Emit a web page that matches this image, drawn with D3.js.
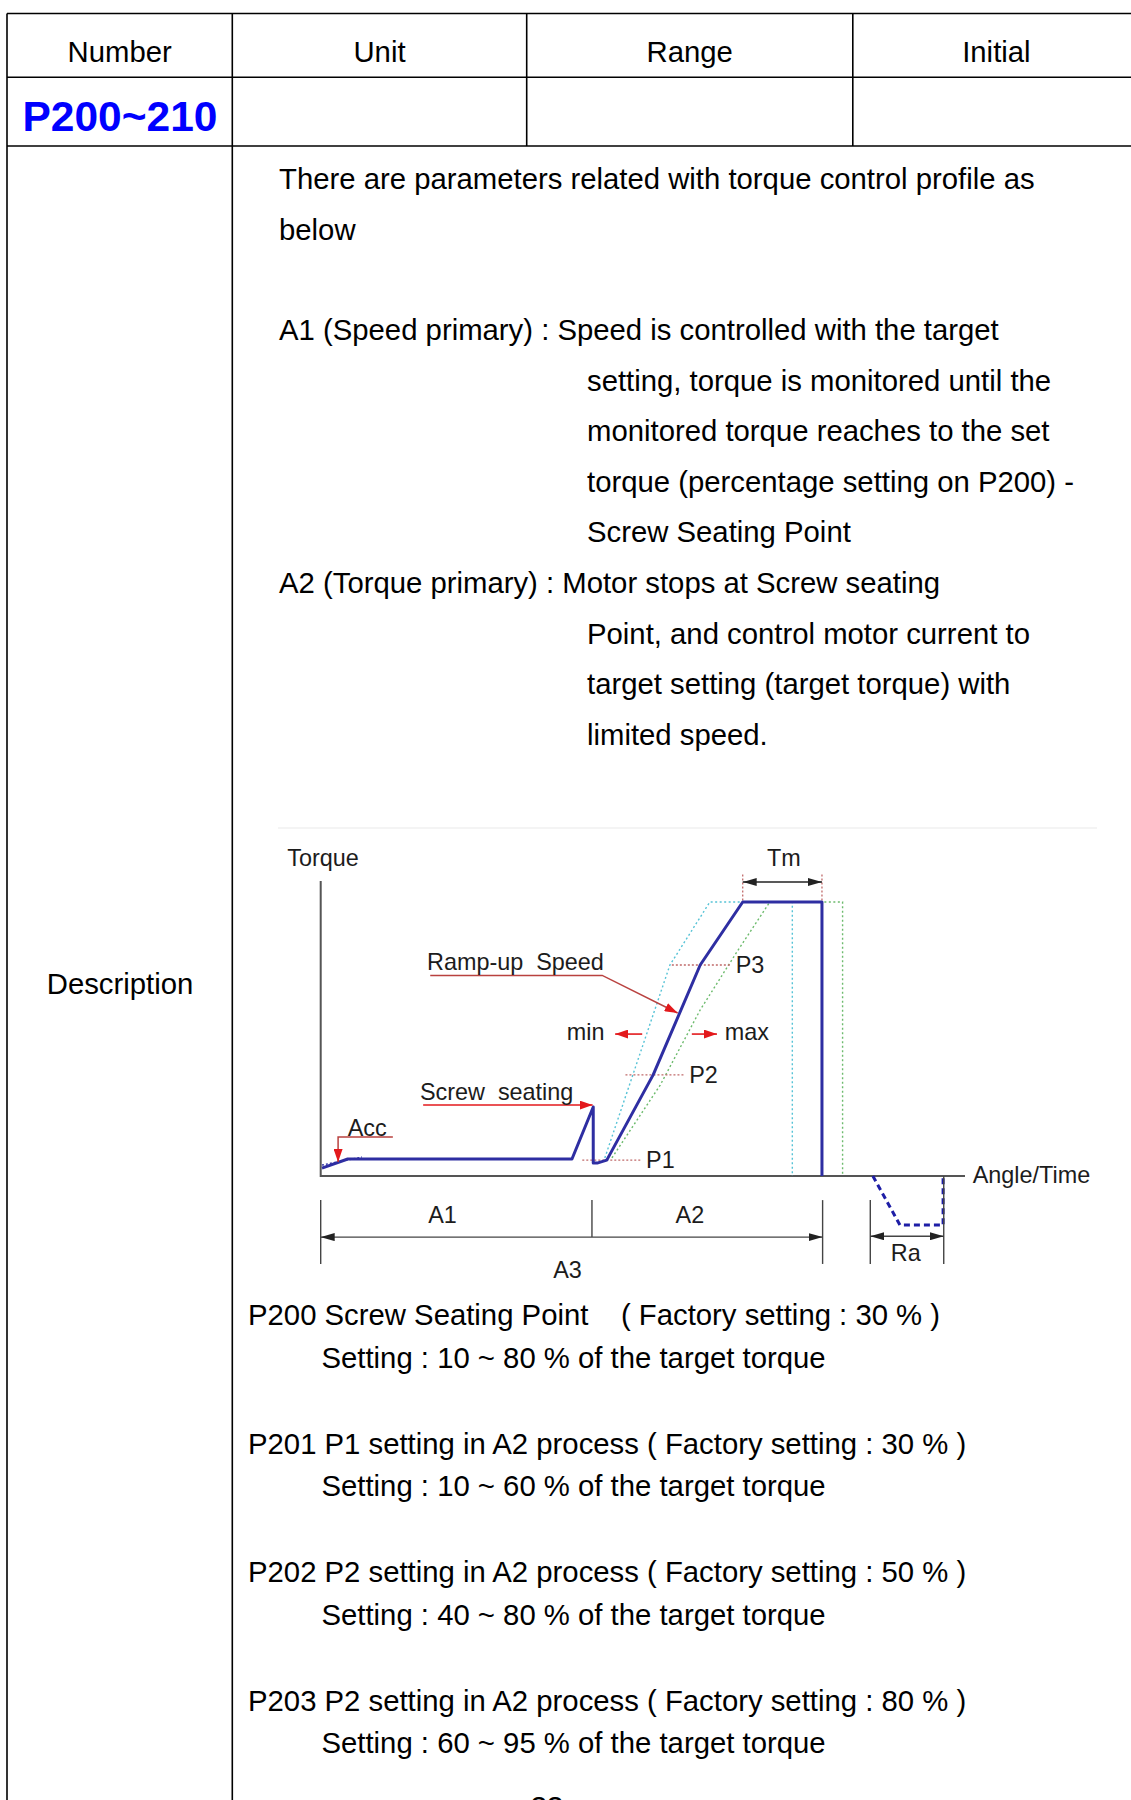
<!DOCTYPE html>
<html><head><meta charset="utf-8">
<script src="https://cdn.jsdelivr.net/npm/d3@7"></script>
<style>
html,body{margin:0;padding:0;background:#fff;}
svg{display:block;}
text{font-family:"Liberation Sans",Arial,Helvetica,sans-serif;white-space:pre;}
</style></head><body>
<svg id="page" width="1131" height="1800"></svg>
<script>
// ---------- text content ----------
const headers = ["Number", "Unit", "Range", "Initial"];
const paramRange = "P200~210";
const rowLabel = "Description";
const introLines = ["There are parameters related with torque control profile as", "below"];
const a1Lines = ["A1 (Speed primary) : Speed is controlled with the target",
  "setting, torque is monitored until the",
  "monitored torque reaches to the set",
  "torque (percentage setting on P200) -",
  "Screw Seating Point"];
const a2Lines = ["A2 (Torque primary) : Motor stops at Screw seating",
  "Point, and control motor current to",
  "target setting (target torque) with",
  "limited speed."];
const paramTitles = ["P200 Screw Seating Point    ( Factory setting : 30 % )",
  "P201 P1 setting in A2 process ( Factory setting : 30 % )",
  "P202 P2 setting in A2 process ( Factory setting : 50 % )",
  "P203 P2 setting in A2 process ( Factory setting : 80 % )"];
const paramSettings = ["Setting : 10 ~ 80 % of the target torque",
  "Setting : 10 ~ 60 % of the target torque",
  "Setting : 40 ~ 80 % of the target torque",
  "Setting : 60 ~ 95 % of the target torque"];
const pageNumber = "33";

// ---------- diagram data (angle % of axis, torque % of target) ----------
const profileAngle  = [0.2, 4.2, 39.0, 42.3, 42.3, 42.9, 44.4, 51.6, 58.9, 65.5, 77.8, 77.8];
const profileTorque = [2.9, 6.2, 6.2, 25.2, 4.7, 4.7, 5.8, 36.9, 77.0, 100, 100, 0];
const minAngle  = [44.1, 54.2, 60.4, 73.2, 73.2];
const minTorque = [6.6, 77.0, 100, 100, 0];
const maxAngle  = [45.2, 52.7, 58.9, 64.3, 69.7, 81.0, 81.0];
const maxTorque = [6.6, 33.2, 60.6, 80.7, 100, 100, 0];
const accAngle  = [0.2, 6.4];
const accTorque = [4.0, 6.9];
const releaseAngle  = [85.7, 89.9, 96.6, 96.6];
const releaseTorque = [0, -17.9, -17.9, 0];
const setPointNames  = ["P1", "P2", "P3"];
const setPointTorque = [5.8, 36.9, 77.0];
const setPointFrom   = [40.6, 47.3, 54.5];
const setPointTo     = [49.9, 56.6, 63.8];
const tmRange = [65.5, 77.8];
const phaseNames = ["A1", "A2"];
const phaseBounds = [0, 42.1, 77.9];
const raRange = [85.3, 96.7];

// ---------- setup ----------
const svg = d3.select("#page");
const BLK = "#000";
const FS = 29.3;
const defs = svg.append("defs");
function marker(id, color, w, h) {
  defs.append("marker").attr("id", id).attr("markerUnits", "userSpaceOnUse")
    .attr("markerWidth", w).attr("markerHeight", h).attr("refX", w).attr("refY", h / 2)
    .attr("orient", "auto-start-reverse")
    .append("path").attr("d", `M0,0L${w},${h / 2}L0,${h}Z`).attr("fill", color);
}
marker("arrBlk", "#222", 14, 8);
marker("arrRed", "#e3191c", 13, 9);

// ---------- table ----------
const colEdges = [7, 232.3, 526.7, 852.8, 1140];
const rowEdges = [13.5, 77.3, 146];
const tbl = svg.append("g").attr("stroke", BLK).attr("stroke-width", 1.6).attr("fill", "none");
rowEdges.forEach(r => tbl.append("line").attr("x1", colEdges[0]).attr("x2", 1131).attr("y1", r).attr("y2", r));
[0, 1].forEach(i => tbl.append("line").attr("x1", colEdges[i]).attr("x2", colEdges[i]).attr("y1", rowEdges[0]).attr("y2", 1800));
[2, 3].forEach(i => tbl.append("line").attr("x1", colEdges[i]).attr("x2", colEdges[i]).attr("y1", rowEdges[0]).attr("y2", rowEdges[2]));

svg.append("g").selectAll("text").data(headers).join("text")
  .attr("x", (d, i) => (colEdges[i] + colEdges[i + 1]) / 2).attr("y", 61.5)
  .attr("text-anchor", "middle").attr("font-size", FS).attr("fill", BLK).text(d => d);

svg.append("text").attr("x", 120).attr("y", 131).attr("text-anchor", "middle")
  .attr("font-size", 42.5).attr("font-weight", "bold").attr("fill", "#0000ff").text(paramRange);

svg.append("text").attr("x", 120).attr("y", 994).attr("text-anchor", "middle")
  .attr("font-size", FS).attr("fill", BLK).text(rowLabel);

// ---------- body text ----------
const body = svg.append("g").attr("font-size", FS).attr("fill", BLK);
const LS = 50.6;
introLines.forEach((t, i) => body.append("text").attr("x", 279).attr("y", 189 + i * LS).text(t));
const blockLines = a1Lines.concat(a2Lines);
blockLines.forEach((t, i) => {
  const first = (i === 0 || i === a1Lines.length);
  body.append("text").attr("x", first ? 279 : 587).attr("y", 340 + i * LS).text(t);
});
paramTitles.forEach((t, i) => {
  body.append("text").attr("x", 248).attr("y", 1325 + i * 128.6).text(t);
  body.append("text").attr("x", 321.5).attr("y", 1367.5 + i * 128.6).text(paramSettings[i]);
});
body.append("text").attr("x", 547).attr("y", 1817).attr("text-anchor", "middle").text(pageNumber);

// ---------- diagram ----------
const x = d3.scaleLinear().domain([0, 100]).range([320.7, 965]);
const y = d3.scaleLinear().domain([0, 100]).range([1176, 902]);
const line = d3.line().x(d => x(d[0])).y(d => y(d[1]));
const dg = svg.append("g");

// faint picture edge
dg.append("line").attr("x1", 278).attr("x2", 1097).attr("y1", 828).attr("y2", 828)
  .attr("stroke", "#f1f1f1").attr("stroke-width", 1.5);

// axes
dg.append("path").attr("d", line([[0, 107.7], [0, 0], [100, 0]]))
  .attr("fill", "none").attr("stroke", "#555").attr("stroke-width", 2);

// min / max envelopes
dg.append("path").attr("d", line(d3.zip(minAngle, minTorque))).attr("fill", "none")
  .attr("stroke", "#56c3d6").attr("stroke-width", 1.4).attr("stroke-dasharray", "2,2.5");
dg.append("path").attr("d", line(d3.zip(maxAngle, maxTorque))).attr("fill", "none")
  .attr("stroke", "#6dbb6d").attr("stroke-width", 1.4).attr("stroke-dasharray", "2,2.5");

// set point guide lines
dg.append("g").selectAll("path").data(setPointNames).join("path")
  .attr("d", (d, i) => line([[setPointFrom[i], setPointTorque[i]], [setPointTo[i], setPointTorque[i]]]))
  .attr("stroke", "#c06a6a").attr("stroke-width", 1.4).attr("stroke-dasharray", "2,2");
// Tm guides
dg.append("g").selectAll("path").data(tmRange).join("path")
  .attr("d", d => line([[d, 110], [d, 100]]))
  .attr("stroke", "#c06a6a").attr("stroke-width", 1.3).attr("stroke-dasharray", "2,2");

// acc dotted
dg.append("path").attr("d", line(d3.zip(accAngle, accTorque))).attr("fill", "none")
  .attr("stroke", "#3a3aa8").attr("stroke-width", 1.5).attr("stroke-dasharray", "2,2");

// main profile
dg.append("path").attr("d", line(d3.zip(profileAngle, profileTorque))).attr("fill", "none")
  .attr("stroke", "#2e2ea2").attr("stroke-width", 3).attr("stroke-linejoin", "round");

// release (Ra) dashed
dg.append("path").attr("d", line(d3.zip(releaseAngle, releaseTorque))).attr("fill", "none")
  .attr("stroke", "#1e1ea6").attr("stroke-width", 3).attr("stroke-dasharray", "6,4");

// annotation arrows
const red = "#e3191c", darkRed = "#b9413f";
dg.append("path").attr("d", line([[17.0, 73.2], [43.7, 73.2], [55.4, 59.5]])).attr("fill", "none")
  .attr("stroke", darkRed).attr("stroke-width", 1.5).attr("marker-end", "url(#arrRed)");
dg.append("path").attr("d", line([[11.2, 14.2], [2.7, 14.2], [2.7, 5.1]])).attr("fill", "none")
  .attr("stroke", darkRed).attr("stroke-width", 1.5).attr("marker-end", "url(#arrRed)");
dg.append("path").attr("d", line([[15.9, 25.9], [42.2, 25.9]])).attr("fill", "none")
  .attr("stroke", red).attr("stroke-width", 1.6).attr("marker-end", "url(#arrRed)");
dg.append("path").attr("d", line([[49.9, 51.8], [45.7, 51.8]])).attr("fill", "none")
  .attr("stroke", red).attr("stroke-width", 1.6).attr("marker-end", "url(#arrRed)");
dg.append("path").attr("d", line([[57.6, 51.8], [61.5, 51.8]])).attr("fill", "none")
  .attr("stroke", red).attr("stroke-width", 1.6).attr("marker-end", "url(#arrRed)");
// Tm arrow
dg.append("path").attr("d", line([[tmRange[0], 107.3], [tmRange[1], 107.3]])).attr("fill", "none")
  .attr("stroke", "#222").attr("stroke-width", 1.6)
  .attr("marker-start", "url(#arrBlk)").attr("marker-end", "url(#arrBlk)");

// dimension lines
const dim = dg.append("g").attr("stroke", "#444").attr("stroke-width", 1.4).attr("fill", "none");
dim.append("path").attr("d", line([[phaseBounds[0], -8.8], [phaseBounds[0], -32.1]]));
dim.append("path").attr("d", line([[phaseBounds[1], -8.8], [phaseBounds[1], -22.3]]));
dim.append("path").attr("d", line([[phaseBounds[2], -8.8], [phaseBounds[2], -32.1]]));
dim.append("path").attr("d", line([[phaseBounds[0], -22.3], [phaseBounds[2], -22.3]]))
  .attr("marker-start", "url(#arrBlk)").attr("marker-end", "url(#arrBlk)");
dim.append("path").attr("d", line([[raRange[0], -8.8], [raRange[0], -32.1]]));
dim.append("path").attr("d", line([[raRange[1], 0], [raRange[1], -32.1]]));
dim.append("path").attr("d", line([[raRange[0], -22.0], [raRange[1], -22.0]]))
  .attr("marker-start", "url(#arrBlk)").attr("marker-end", "url(#arrBlk)");

// labels
const lab = dg.append("g").attr("font-size", 23.4).attr("fill", "#1c1c1c");
function label(t, a, tq, anchor) {
  lab.append("text").attr("x", x(a)).attr("y", y(tq)).attr("text-anchor", anchor || "start").text(t);
}
label("Torque", -5.2, 113.1);
label("Tm", 71.9, 113.1, "middle");
label("Ramp-up  Speed", 16.5, 75.2);
label("min", 38.2, 49.6);
label("max", 62.7, 49.6);
setPointNames.forEach((n, i) => label(n, setPointTo[i] + 0.6, setPointTorque[i] - 2.9));
label("Screw  seating", 15.4, 27.7);
label("Acc", 4.2, 14.6);
label("Angle/Time", 101.2, -2.6);
phaseNames.forEach((n, i) => label(n, i === 0 ? 18.9 : 57.3, -17.2, "middle"));
label("A3", 38.3, -37.2, "middle");
label("Ra", 90.8, -31.0, "middle");
</script>
</body></html>
